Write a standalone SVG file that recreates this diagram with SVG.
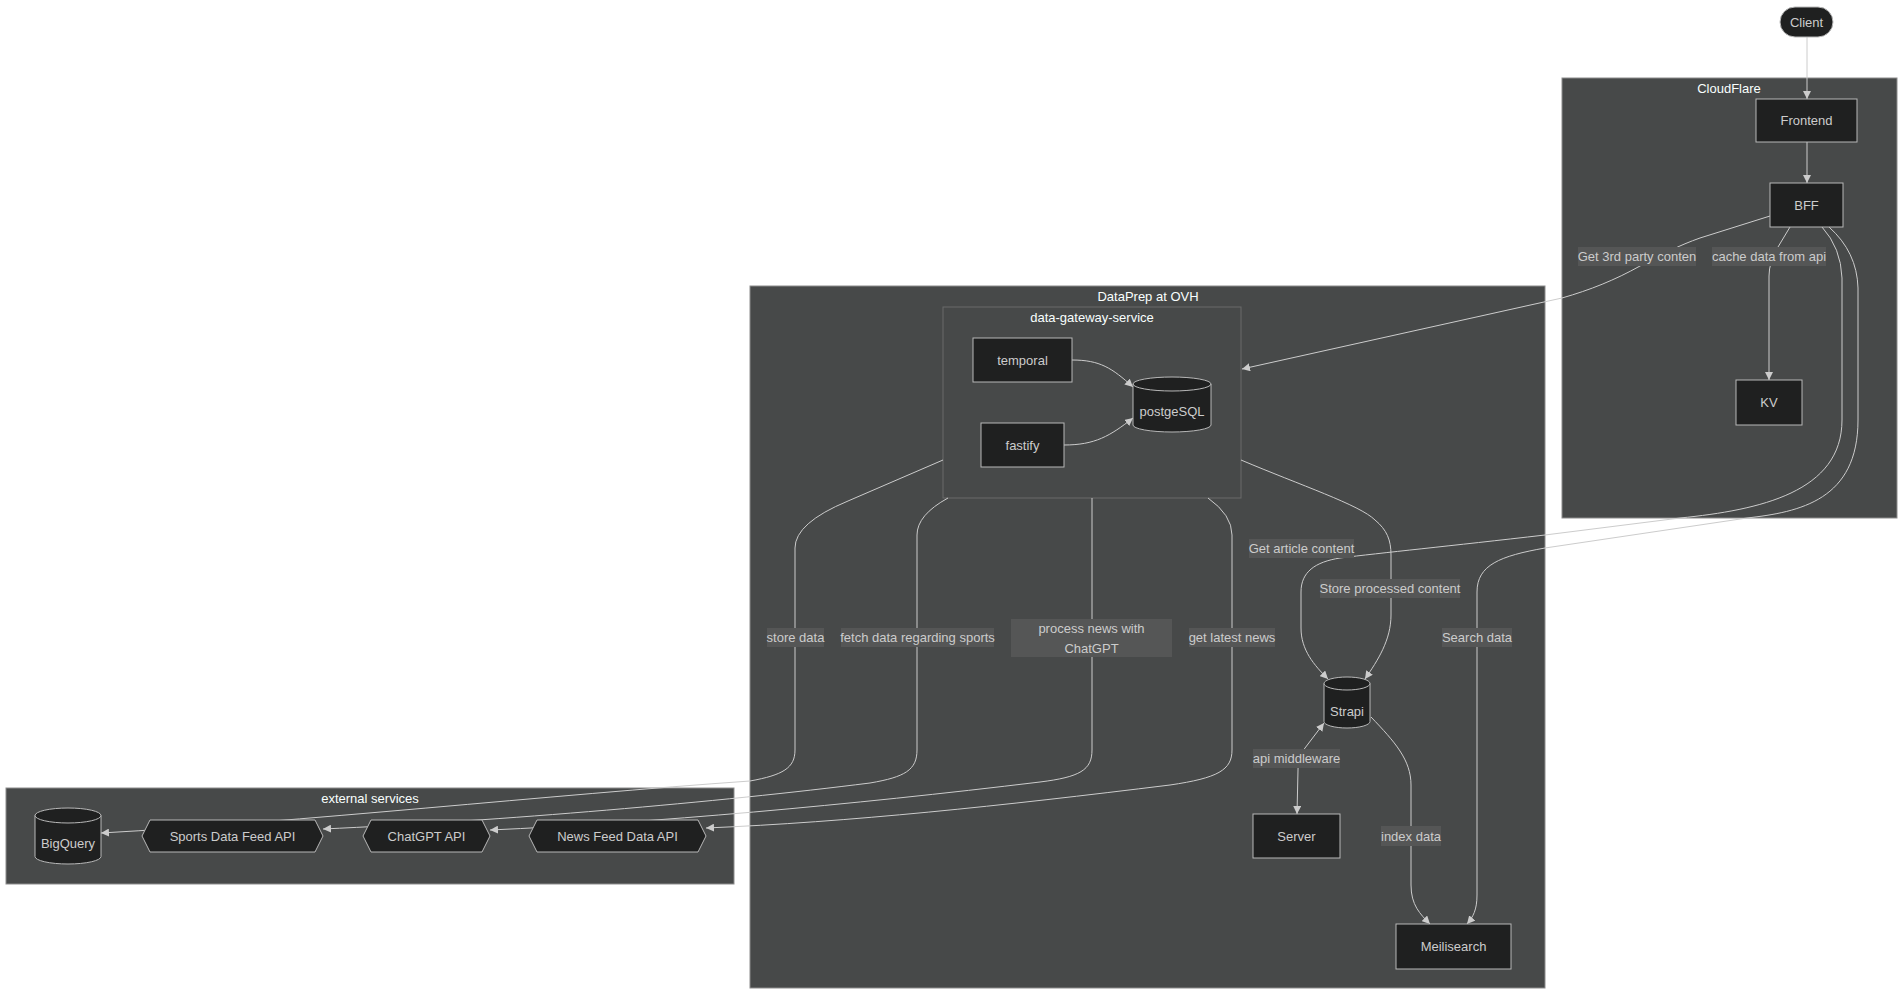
<svg xmlns="http://www.w3.org/2000/svg" width="1904" height="995" viewBox="0 0 1904 995">
<defs>
<style>
text{font-family:"Liberation Sans",Arial,sans-serif;font-size:13px;dominant-baseline:central;text-anchor:middle}
.cluster rect{fill:#474949;stroke:#8c8c8c;stroke-width:1}
.cluster.inner rect{stroke:#6a6b6b}
.cluster text{fill:#f9fffe}
.node rect,.node path.body,.node polygon{fill:#1f2020;stroke:#b8b8b8;stroke-width:1}
.node path.rim{fill:none;stroke:#b8b8b8;stroke-width:1}
.node text{fill:#cccccc}
.edge{fill:none;stroke:#cccccc;stroke-width:1;marker-end:url(#arrow)}
.elabel rect{fill:#555656}
.elabel text{fill:#cccccc}
</style>
<marker id="arrow" viewBox="0 0 10 10" refX="10" refY="5" markerWidth="8" markerHeight="8" markerUnits="userSpaceOnUse" orient="auto-start-reverse">
<path d="M0,0 L10,5 L0,10 z" fill="#cccccc"/>
</marker>
</defs>
<rect width="1904" height="995" fill="#ffffff"/>

<g id="clusters">
<g id="cluster-cloudflare" class="cluster"><rect x="1562" y="78" width="335" height="440"/><text x="1729" y="88">CloudFlare</text></g>
<g id="cluster-dataprep" class="cluster"><rect x="750" y="286" width="795" height="702"/><text x="1148" y="296">DataPrep at OVH</text></g>
<g id="cluster-dgs" class="cluster inner"><rect x="943" y="307" width="298" height="191"/><text x="1092" y="317">data-gateway-service</text></g>
<g id="cluster-external" class="cluster"><rect x="6" y="788" width="728" height="96"/><text x="370" y="798">external services</text></g>
</g>

<g id="connectors">
<path class="edge" d="M1807,37 L1807,99"/>
<path class="edge" d="M1807,142 L1807,183"/>
<path class="edge" d="M1770,216 L1700,238 C1680,245 1660,255 1640,266 C1615,280 1590,290 1562,298 L1242,369"/>
<path class="edge" d="M1790,227 L1778,247 Q1769,262 1769,276 L1769,380"/>
<path class="edge" d="M1822,227 Q1841,248 1842,278 L1842,420 C1842,492 1760,510 1680,518 L1545,535 C1450,546 1380,553 1340,558 C1315,562 1301,572 1301,592 L1301,628 C1301,650 1314,665 1328,679"/>
<path class="edge" d="M1829,227 Q1857,252 1858,288 L1858,420 C1858,500 1800,512 1747,518 L1545,548 C1500,556 1477,565 1477,592 L1477,895 C1477,910 1473,917 1467,924"/>
<path class="edge" d="M1072,360 C1100,360 1112,368 1133,387"/>
<path class="edge" d="M1064,445 C1095,445 1110,436 1133,418"/>
<path class="edge" d="M943,460 L848,501 Q795,523 795,548 L795,750 C795,768 783,775 750,781 C550,795 300,822 101,833"/>
<path class="edge" d="M948,498 Q917,515 917,535 L917,750 C917,770 905,777 870,783 C720,802 500,821 323,829"/>
<path class="edge" d="M1092,498 L1092,750 C1092,770 1080,777 1040,782 C850,805 650,823 490,830"/>
<path class="edge" d="M1208,498 Q1232,515 1232,535 L1232,750 C1232,770 1218,778 1170,785 C1000,806 850,822 706,828"/>
<path class="edge" d="M1241,460 C1300,485 1360,505 1375,520 C1387,530 1391,540 1391,555 L1391,615 C1391,640 1378,660 1365,679"/>
<path class="edge" style="marker-start:url(#arrow)" d="M1324,723 L1305,748 C1300,755 1298,760 1298,770 L1297,814"/>
<path class="edge" d="M1371,717 C1395,742 1411,760 1411,785 L1411,885 C1411,905 1420,914 1430,924"/>
</g>

<g id="edge-labels">
<g class="elabel"><rect x="1578" y="247" width="118" height="19"/><text x="1637" y="256.5">Get 3rd party conten</text></g>
<g class="elabel"><rect x="1712" y="247" width="114" height="19"/><text x="1769" y="256.5">cache data from api</text></g>
<g class="elabel"><rect x="1249" y="539" width="105" height="19"/><text x="1301.5" y="548.5">Get article content</text></g>
<g class="elabel"><rect x="1320" y="579" width="140" height="19"/><text x="1390" y="588.5">Store processed content</text></g>
<g class="elabel"><rect x="1442" y="628" width="70" height="19"/><text x="1477" y="637.5">Search data</text></g>
<g class="elabel"><rect x="767" y="628" width="57" height="19"/><text x="795.5" y="637.5">store data</text></g>
<g class="elabel"><rect x="841" y="628" width="153" height="19"/><text x="917.5" y="637.5">fetch data regarding sports</text></g>
<g class="elabel"><rect x="1011" y="619" width="161" height="38"/><text x="1091.5" y="628">process news with</text><text x="1091.5" y="648">ChatGPT</text></g>
<g class="elabel"><rect x="1189" y="628" width="86" height="19"/><text x="1232" y="637.5">get latest news</text></g>
<g class="elabel"><rect x="1253" y="749" width="87" height="19"/><text x="1296.5" y="758.5">api middleware</text></g>
<g class="elabel"><rect x="1381" y="826" width="60" height="20"/><text x="1411" y="836">index data</text></g>
</g>

<g id="nodes">
<g id="node-client" class="node"><rect x="1780" y="7" width="53" height="30" rx="15" ry="15"/><text x="1806.5" y="22">Client</text></g>
<g id="node-frontend" class="node"><rect x="1756" y="99" width="101" height="43"/><text x="1806.5" y="120.5">Frontend</text></g>
<g id="node-bff" class="node"><rect x="1770" y="183" width="73" height="44"/><text x="1806.5" y="205">BFF</text></g>
<g id="node-kv" class="node"><rect x="1736" y="380" width="66" height="45"/><text x="1769" y="402.5">KV</text></g>
<g id="node-temporal" class="node"><rect x="973" y="338" width="99" height="44"/><text x="1022.5" y="360">temporal</text></g>
<g id="node-fastify" class="node"><rect x="981" y="423" width="83" height="44"/><text x="1022.5" y="445">fastify</text></g>
<g id="node-postgesql" class="node">
<path class="body" d="M1133,384 L1133,425 A39,7 0 0 0 1211,425 L1211,384 A39,7 0 0 0 1133,384 Z"/>
<path class="rim" d="M1133,384 A39,7 0 0 0 1211,384"/>
<text x="1172" y="411">postgeSQL</text></g>
<g id="node-strapi" class="node">
<path class="body" d="M1324,683.5 L1324,721.5 A23,6.5 0 0 0 1370,721.5 L1370,683.5 A23,6.5 0 0 0 1324,683.5 Z"/>
<path class="rim" d="M1324,683.5 A23,6.5 0 0 0 1370,683.5"/>
<text x="1347" y="711">Strapi</text></g>
<g id="node-server" class="node"><rect x="1253" y="814" width="87" height="44"/><text x="1296.5" y="836">Server</text></g>
<g id="node-meilisearch" class="node"><rect x="1396" y="924" width="115" height="45"/><text x="1453.5" y="946.5">Meilisearch</text></g>
<g id="node-bigquery" class="node">
<path class="body" d="M35,815.5 L35,856.5 A33,7.5 0 0 0 101,856.5 L101,815.5 A33,7.5 0 0 0 35,815.5 Z"/>
<path class="rim" d="M35,815.5 A33,7.5 0 0 0 101,815.5"/>
<text x="68" y="843">BigQuery</text></g>
<g id="node-sports" class="node"><polygon points="150,820 315,820 323,836 315,852 150,852 142,836"/><text x="232.5" y="836">Sports Data Feed API</text></g>
<g id="node-chatgpt" class="node"><polygon points="371,820 482,820 490,836 482,852 371,852 363,836"/><text x="426.5" y="836">ChatGPT API</text></g>
<g id="node-news" class="node"><polygon points="537,820 698,820 706,836 698,852 537,852 529,836"/><text x="617.5" y="836">News Feed Data API</text></g>
</g>
</svg>
